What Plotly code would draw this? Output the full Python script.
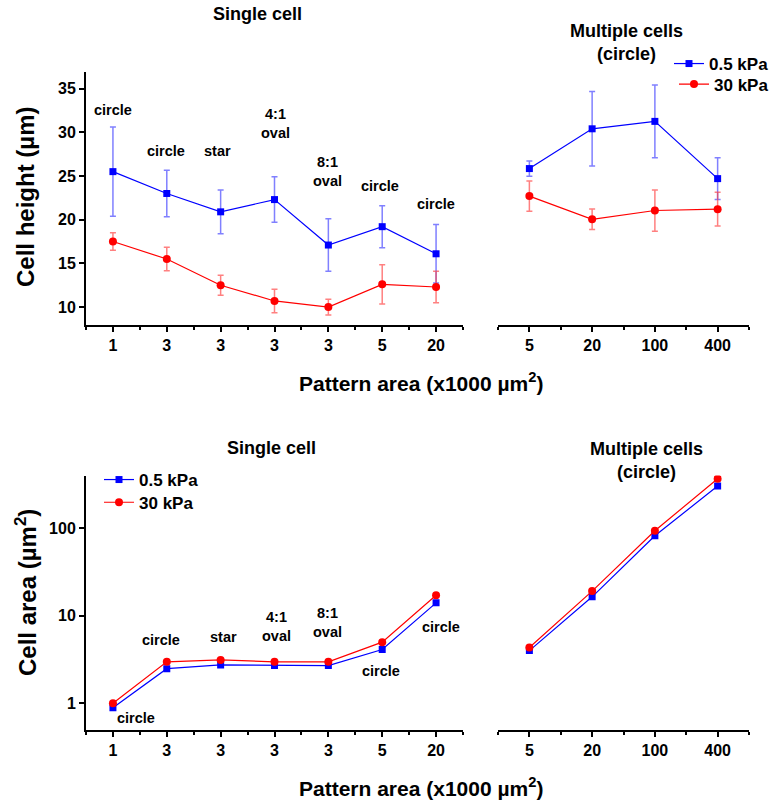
import plotly.graph_objects as go

W, H = 774, 807

# ---------------- data ----------------
single_labels = ["1", "3", "3", "3", "3", "5", "20"]
single_shapes = ["circle", "circle", "star", "4:1<br>oval", "8:1<br>oval", "circle", "circle"]
multi_labels = ["5", "20", "100", "400"]

# Cell height (um), single cell
h_single_soft = [25.5, 23.0, 20.9, 22.3, 17.1, 19.2, 16.1]
h_single_soft_sd = [5.1, 2.65, 2.5, 2.6, 3.0, 2.4, 3.35]
h_single_stiff = [17.5, 15.5, 12.5, 10.7, 10.0, 12.6, 12.3]
h_single_stiff_sd = [1.0, 1.35, 1.15, 1.35, 0.9, 2.25, 1.8]

# Cell height (um), multiple cells
h_multi_soft = [25.85, 30.4, 31.25, 24.7]
h_multi_soft_sd = [0.87, 4.27, 4.15, 2.4]
h_multi_stiff = [22.7, 20.05, 21.05, 21.2]
h_multi_stiff_sd = [1.73, 1.16, 2.36, 1.93]

# Cell area (um^2), single cell
a_single_soft = [0.89, 2.48, 2.74, 2.69, 2.69, 4.1, 14.0]
a_single_stiff = [1.0, 2.97, 3.12, 2.97, 2.97, 4.98, 17.1]

# Cell area (um^2), multiple cells
a_multi_soft = [3.99, 16.4, 81.7, 302]
a_multi_stiff = [4.32, 19.05, 93.1, 366]

BLUE = "#0000FF"
RED = "#FF0000"
BLUE_ERR = "rgba(60,60,255,0.65)"
RED_ERR = "rgba(255,60,60,0.65)"
FONT = "Liberation Sans, Arial, sans-serif"

xs = list(range(len(single_labels)))
xm = list(range(len(multi_labels)))


def px(x):
    return x / W


def py(y):
    return 1 - y / H


fig = go.Figure()


def add_series(x, y, sd, color, errcolor, symbol, size, name, xa, ya, legend, show):
    kw = {}
    if sd is not None:
        kw["error_y"] = dict(type="data", array=sd, visible=True, color=errcolor,
                             thickness=1.5, width=3)
    fig.add_trace(go.Scatter(
        x=x, y=y, mode="lines+markers", name=name,
        line=dict(color=color, width=1.2),
        marker=dict(color=color, symbol=symbol, size=size),
        xaxis=xa, yaxis=ya, legend=legend, showlegend=show, **kw))


# top panels
add_series(xs, h_single_soft, h_single_soft_sd, BLUE, BLUE_ERR, "square", 7, "0.5 kPa", "x", "y", "legend", True)
add_series(xs, h_single_stiff, h_single_stiff_sd, RED, RED_ERR, "circle", 8, "30 kPa", "x", "y", "legend3", True)
add_series(xm, h_multi_soft, h_multi_soft_sd, BLUE, BLUE_ERR, "square", 7, "0.5 kPa", "x2", "y2", "legend", False)
add_series(xm, h_multi_stiff, h_multi_stiff_sd, RED, RED_ERR, "circle", 8, "30 kPa", "x2", "y2", "legend3", False)

# bottom panels
add_series(xs, a_single_soft, None, BLUE, BLUE_ERR, "square", 7, "0.5 kPa", "x3", "y3", "legend2", True)
add_series(xs, a_single_stiff, None, RED, RED_ERR, "circle", 8, "30 kPa", "x3", "y3", "legend4", True)
add_series(xm, a_multi_soft, None, BLUE, BLUE_ERR, "square", 7, "0.5 kPa", "x4", "y4", "legend2", False)
add_series(xm, a_multi_stiff, None, RED, RED_ERR, "circle", 8, "30 kPa", "x4", "y4", "legend4", False)

tickfont = dict(family=FONT, size=16, color="black", weight="bold")


def xaxis_cfg(domain, labels, anchor):
    n = len(labels)
    return dict(domain=domain, range=[-0.5, n - 0.5], anchor=anchor,
                tickmode="array", tickvals=list(range(n)), ticktext=labels,
                showline=True, linecolor="black", linewidth=2,
                ticks="outside", ticklen=5, tickwidth=2, tickcolor="black",
                minor=dict(tick0=0.5, dtick=1, ticks="outside", ticklen=3,
                           tickwidth=1.5, tickcolor="black", showgrid=False),
                showgrid=False, zeroline=False, tickfont=tickfont, fixedrange=True)


xl = [px(86), px(463)]
xr = [px(498), px(749)]
top_dom = [py(325), py(72)]
bot_dom = [py(729.5), py(475.5)]

hidden_y = dict(showline=False, showticklabels=False, ticks="", showgrid=False, zeroline=False)


def legend_cfg(x, y, anchor="left"):
    return dict(x=px(x), y=py(y), xanchor=anchor, yanchor="middle",
                font=dict(family=FONT, size=17, color="black", weight="bold"),
                bgcolor="rgba(0,0,0,0)", tracegroupgap=0, itemwidth=30)


fig.update_layout(
    width=W, height=H, autosize=False,
    margin=dict(l=0, r=0, t=0, b=0),
    paper_bgcolor="white", plot_bgcolor="white",
    font=dict(family=FONT, color="black"),
    xaxis=xaxis_cfg(xl, single_labels, "y"),
    xaxis2=xaxis_cfg(xr, multi_labels, "y2"),
    xaxis3=xaxis_cfg(xl, single_labels, "y3"),
    xaxis4=xaxis_cfg(xr, multi_labels, "y4"),
    yaxis=dict(domain=top_dom, range=[7.95, 36.9], anchor="x",
               tickmode="array", tickvals=[10, 15, 20, 25, 30, 35],
               showline=True, linecolor="black", linewidth=2,
               ticks="outside", ticklen=5, tickwidth=2, tickcolor="black",
               showgrid=False, zeroline=False, tickfont=tickfont),
    yaxis2=dict(domain=top_dom, range=[7.95, 36.9], anchor="x2", **hidden_y),
    yaxis3=dict(domain=bot_dom, type="log", range=[-0.3, 2.6], anchor="x3",
                tickmode="array", tickvals=[1, 10, 100], ticktext=["1", "10", "100"],
                showline=True, linecolor="black", linewidth=2,
                ticks="outside", ticklen=5, tickwidth=2, tickcolor="black",
                showgrid=False, zeroline=False, tickfont=tickfont),
    yaxis4=dict(domain=bot_dom, type="log", range=[-0.3, 2.6], anchor="x4", **hidden_y),
    legend=legend_cfg(W, 64, "right"),
    legend3=legend_cfg(W, 84.5, "right"),
    legend2=legend_cfg(99, 480),
    legend4=legend_cfg(99, 502.7),
)

ann = []


def bold(s):
    return dict(family=FONT, size=s, color="black", weight="bold")


# panel titles
for x, y, t in [(257, 14, "Single cell"), (626, 43, "Multiple cells<br>(circle)"),
                (271, 448, "Single cell"), (646, 460, "Multiple cells<br>(circle)")]:
    ann.append(dict(x=px(x), y=py(y), xref="paper", yref="paper", text=t, showarrow=False,
                    font=bold(18), xanchor="center", yanchor="middle"))

# axis titles
for x, y, t in [(421, 382, "Pattern area (x1000 µm<sup>2</sup>)"),
                (421, 787, "Pattern area (x1000 µm<sup>2</sup>)")]:
    ann.append(dict(x=px(x), y=py(y), xref="paper", yref="paper", text=t, showarrow=False,
                    font=bold(21), xanchor="center", yanchor="middle"))
for x, y, t in [(26, 197, "Cell height (µm)"), (26, 593, "Cell area (µm<sup>2</sup>)")]:
    ann.append(dict(x=px(x), y=py(y), xref="paper", yref="paper", text=t, showarrow=False,
                    font=bold(24), textangle=-90, xanchor="center", yanchor="middle"))

# shape labels (top, linear y in data units)
top_label_pos = [(0.0, 32.6), (0.98, 27.9), (1.95, 27.9), (3.02, 31.0),
                 (3.98, 25.5), (4.95, 23.9), (6.0, 21.8)]
for (x, y), t in zip(top_label_pos, single_shapes):
    ann.append(dict(x=x, y=y, xref="x", yref="y", text=t, showarrow=False,
                    font=bold(14.5), xanchor="center", yanchor="middle"))

# shape labels (bottom, log y -> log10 units)
bot_label_pos = [(0.42, -0.165), (0.9, 0.723), (2.05, 0.761), (3.03, 0.88),
                 (3.99, 0.92), (4.97, 0.373), (6.09, 0.869)]
for (x, y), t in zip(bot_label_pos, single_shapes):
    ann.append(dict(x=x, y=y, xref="x3", yref="y3", text=t, showarrow=False,
                    font=bold(14.5), xanchor="center", yanchor="middle"))

fig.update_layout(annotations=ann)

fig.write_html("out.html")
